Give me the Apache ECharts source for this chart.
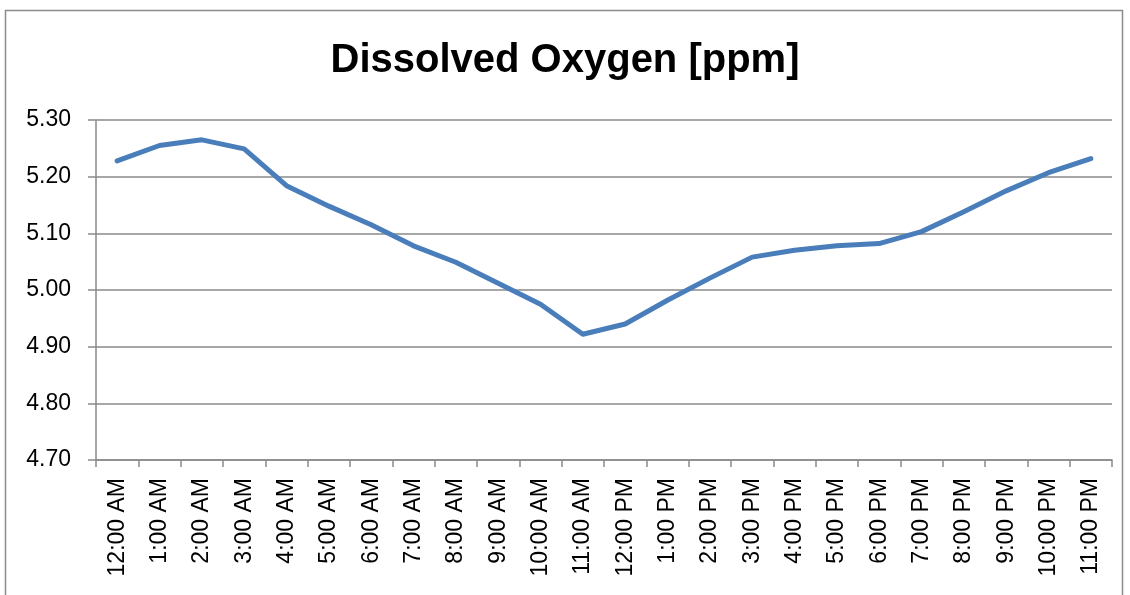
<!DOCTYPE html>
<html>
<head>
<meta charset="utf-8">
<title>Dissolved Oxygen</title>
<script src="https://cdn.jsdelivr.net/npm/echarts@6/dist/echarts.min.js"></script>
<style>
  html, body { margin: 0; padding: 0; background: #fff; }
  #chart { width: 1130px; height: 595px; }
</style>
</head>
<body>
<div id="chart"></div>
<script>
// hourly readings
const hours = [
  '12:00 AM', '1:00 AM', '2:00 AM', '3:00 AM', '4:00 AM', '5:00 AM',
  '6:00 AM', '7:00 AM', '8:00 AM', '9:00 AM', '10:00 AM', '11:00 AM',
  '12:00 PM', '1:00 PM', '2:00 PM', '3:00 PM', '4:00 PM', '5:00 PM',
  '6:00 PM', '7:00 PM', '8:00 PM', '9:00 PM', '10:00 PM', '11:00 PM'
];
const oxygen = [
  5.228, 5.255, 5.265, 5.249, 5.184, 5.148,
  5.115, 5.078, 5.049, 5.012, 4.975, 4.922,
  4.940, 4.982, 5.021, 5.058, 5.070, 5.078,
  5.082, 5.103, 5.138, 5.175, 5.207, 5.232
];
const yMin = 4.7;
const yMax = 5.3;
const yStep = 0.1;

const gridColor = '#8a8a8a';
const font = '"Liberation Sans", Arial, sans-serif';

const chart = echarts.init(document.getElementById('chart'), null, { renderer: 'canvas' });

chart.setOption({
  backgroundColor: '#fff',
  animation: false,
  title: {
    text: 'Dissolved Oxygen [ppm]',
    left: 'center',
    top: 36,
    textStyle: { fontFamily: font, fontSize: 40, fontWeight: 'bold', color: '#000' }
  },
  graphic: [{
    type: 'rect',
    left: 3,
    top: 8,
    shape: { width: 1117, height: 600 },
    style: { fill: 'none', stroke: '#8c8c8c', lineWidth: 1.5 },
    silent: true
  }],
  grid: { left: 96, right: 18, top: 120, bottom: 135 },
  xAxis: {
    type: 'category',
    data: hours,
    boundaryGap: true,
    axisLine: { lineStyle: { color: gridColor, width: 1.5 } },
    axisTick: { show: true, length: 7, lineStyle: { color: gridColor, width: 1.5 } },
    axisLabel: {
      rotate: 90,
      interval: 0,
      margin: 18,
      color: '#000',
      fontFamily: font,
      fontSize: 23
    }
  },
  yAxis: {
    type: 'value',
    min: yMin,
    max: yMax,
    interval: yStep,
    axisLine: { show: true, lineStyle: { color: gridColor, width: 1.5 } },
    axisTick: { show: true, length: 8, lineStyle: { color: gridColor, width: 1.5 } },
    splitLine: { lineStyle: { color: gridColor, width: 1.5 } },
    axisLabel: {
      margin: 25,
      color: '#000',
      fontFamily: font,
      fontSize: 23,
      formatter: v => v.toFixed(2)
    }
  },
  series: [{
    type: 'line',
    data: oxygen,
    symbol: 'none',
    lineStyle: { color: '#4a7ebb', width: 5, cap: 'round', join: 'round' }
  }]
});
</script>
</body>
</html>
